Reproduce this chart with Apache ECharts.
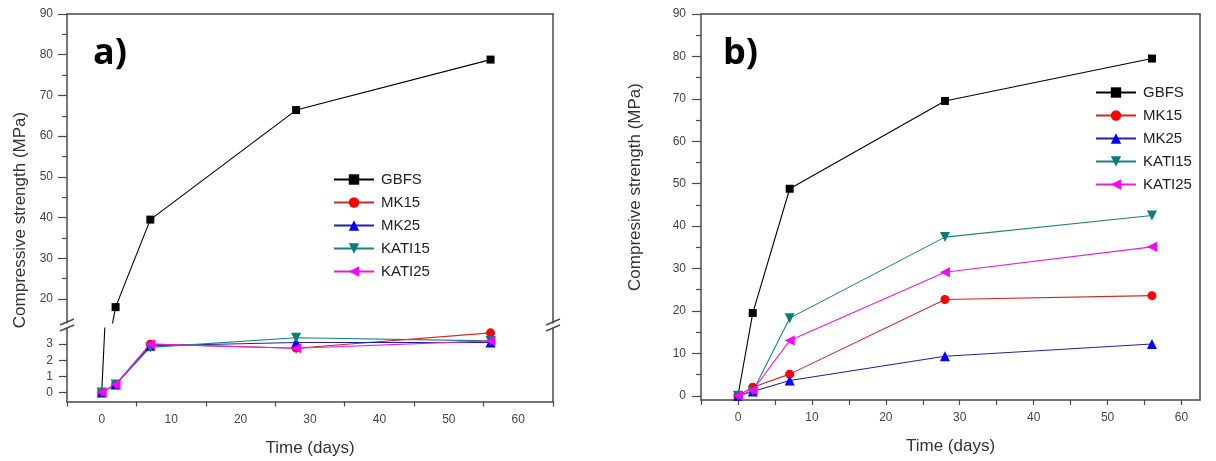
<!DOCTYPE html>
<html>
<head>
<meta charset="utf-8">
<script src="https://cdn.jsdelivr.net/npm/echarts@6/dist/echarts.min.js"></script>
<style>
html,body{margin:0;padding:0;background:#fff;}
#chart{width:1216px;height:461px;}
</style>
</head>
<body>
<div id="chart"></div>
<script>
// ---- data ----
const days = [0, 2, 7, 28, 56];
const seriesNames = ['GBFS', 'MK15', 'MK25', 'KATI15', 'KATI25'];
// panel a)
const aGBFS   = [0, 18.0, 39.5, 66.4, 78.8];
const aMK15   = [0, 0.5, 3.0, 2.75, 3.7];
const aMK25   = [0, 0.5, 2.9, 3.1, 3.1];
const aKATI15 = [0, 0.5, 2.8, 3.4, 3.2];
const aKATI25 = [0, 0.5, 3.0, 2.75, 3.2];
// panel b)
const bGBFS   = [0, 19.5, 48.8, 69.5, 79.5];
const bMK15   = [0, 2.0, 5.1, 22.7, 23.6];
const bMK25   = [0, 1.0, 3.6, 9.3, 12.2];
const bKATI15 = [0, 1.0, 18.3, 37.4, 42.5];
const bKATI25 = [0, 1.3, 13.0, 29.1, 35.1];
// tick labels
const xLabels = [0, 10, 20, 30, 40, 50, 60];
const aXTicks = [-5, 5, 15, 25, 35, 45, 55, 65];
const bXTicks = [-5, 0, 5, 10, 15, 20, 25, 30, 35, 40, 45, 50, 55, 60];
const aUpperLabels = [20, 30, 40, 50, 60, 70, 80, 90];
const aUpperMinor = [25, 35, 45, 55, 65, 75, 85];
const aLowerLabels = [0, 1, 2, 3];
const bYLabels = [0, 10, 20, 30, 40, 50, 60, 70, 80, 90];
const bYMinor = [5, 15, 25, 35, 45, 55, 65, 75, 85];

// ---- styles ----
const FONT = '"Liberation Sans", Arial, sans-serif';
const AX = '#4a4a4a';
const TXT = '#444';
const styles = {
  GBFS:   {marker: '#000000', line: '#000000', symbol: 'rect', size: 8, rot: 0},
  MK15:   {marker: '#ff0000', line: '#cc2a2a', symbol: 'circle', size: 9, rot: 0},
  MK25:   {marker: '#0000ff', line: '#2020a8', symbol: 'triangle', size: 10, rot: 0},
  KATI15: {marker: '#0a7c7c', line: '#1f8080', symbol: 'triangle', size: 10, rot: 180},
  KATI25: {marker: '#ff00ff', line: '#e020e0', symbol: 'triangle', size: 10, rot: 90}
};
const aData = {GBFS: aGBFS, MK15: aMK15, MK25: aMK25, KATI15: aKATI15, KATI25: aKATI25};
const bData = {GBFS: bGBFS, MK15: bMK15, MK25: bMK25, KATI15: bKATI15, KATI25: bKATI25};

function pairs(vals) { return days.map((d, i) => [d, vals[i]]); }

function mkSeries(name, vals, xi, yi) {
  const s = styles[name];
  return {
    type: 'line', name: name, xAxisIndex: xi, yAxisIndex: yi,
    data: pairs(vals), symbol: s.symbol, symbolSize: s.size, symbolRotate: s.rot,
    showAllSymbol: true, clip: true,
    lineStyle: {color: s.line, width: 1.1},
    itemStyle: {color: s.marker},
    emphasis: {disabled: true}, animation: false, z: 3
  };
}

const series = [];
seriesNames.forEach(n => {
  series.push(mkSeries(n, aData[n], 0, 0));   // upper part of a
  series.push(mkSeries(n, aData[n], 2, 3));   // lower part of a
  series.push(mkSeries(n, bData[n], 3, 5));   // b
});

const lineOnly = {show: true, onZero: false, lineStyle: {color: AX, width: 1.5}};
const noLine = {show: false, onZero: false};
const noTick = {show: false};
const noLabel = {show: false};

const grids = [
  {left: 67, width: 486, top: 14, height: 309, outerBoundsMode: 'none'},
  {left: 67, width: 486, top: 328, height: 73.5, outerBoundsMode: 'none'},
  {left: 701, width: 499, top: 14, height: 386, outerBoundsMode: 'none'}
];

const xAxes = [
  {type: 'value', gridIndex: 0, position: 'bottom', min: -5, max: 65,
   axisLine: noLine, axisTick: noTick, axisLabel: noLabel, splitLine: {show: false}},
  {type: 'value', gridIndex: 0, position: 'top', min: -5, max: 65,
   axisLine: lineOnly, axisTick: noTick, axisLabel: noLabel, splitLine: {show: false}},
  {type: 'value', gridIndex: 1, position: 'bottom', min: -5, max: 65,
   axisLine: lineOnly,
   axisTick: {show: true, inside: false, length: 5, customValues: aXTicks, lineStyle: {color: AX, width: 1.2}},
   axisLabel: {show: true, customValues: xLabels, margin: 12, color: TXT, fontSize: 12, fontFamily: FONT},
   splitLine: {show: false},
   name: 'Time (days)', nameLocation: 'middle', nameGap: 38,
   nameTextStyle: {fontSize: 17, color: '#333', fontFamily: FONT}},
  {type: 'value', gridIndex: 2, position: 'bottom', min: -5, max: 62.5,
   axisLine: lineOnly,
   axisTick: {show: true, inside: false, length: 5, customValues: bXTicks, lineStyle: {color: AX, width: 1.2}},
   axisLabel: {show: true, customValues: xLabels, margin: 12, color: TXT, fontSize: 12, fontFamily: FONT},
   splitLine: {show: false},
   name: 'Time (days)', nameLocation: 'middle', nameGap: 38,
   nameTextStyle: {fontSize: 17, color: '#333', fontFamily: FONT}},
  {type: 'value', gridIndex: 2, position: 'top', min: -5, max: 62.5,
   axisLine: lineOnly, axisTick: noTick, axisLabel: noLabel, splitLine: {show: false}}
];

const yAxes = [
  // 0: a upper, main
  {type: 'value', gridIndex: 0, position: 'left', min: 14.1, max: 90,
   axisLine: lineOnly,
   axisTick: {show: true, length: 9, customValues: aUpperLabels, lineStyle: {color: AX, width: 1.2}},
   axisLabel: {show: true, customValues: aUpperLabels, margin: 14, color: TXT, fontSize: 12, fontFamily: FONT},
   splitLine: {show: false}},
  // 1: a upper, minor ticks
  {type: 'value', gridIndex: 0, position: 'left', min: 14.1, max: 90,
   axisLine: noLine,
   axisTick: {show: true, length: 5, customValues: aUpperMinor, lineStyle: {color: AX, width: 1.2}},
   axisLabel: noLabel, splitLine: {show: false}},
  // 2: a upper right frame
  {type: 'value', gridIndex: 0, position: 'right', min: 14.1, max: 90,
   axisLine: lineOnly, axisTick: noTick, axisLabel: noLabel, splitLine: {show: false}},
  // 3: a lower
  {type: 'value', gridIndex: 1, position: 'left', min: -0.55, max: 4,
   axisLine: lineOnly,
   axisTick: {show: true, length: 8, customValues: aLowerLabels, lineStyle: {color: AX, width: 1.2}},
   axisLabel: {show: true, customValues: aLowerLabels, margin: 14, color: TXT, fontSize: 12, fontFamily: FONT},
   splitLine: {show: false}},
  // 4: a lower right frame
  {type: 'value', gridIndex: 1, position: 'right', min: -0.55, max: 4,
   axisLine: lineOnly, axisTick: noTick, axisLabel: noLabel, splitLine: {show: false}},
  // 5: b main
  {type: 'value', gridIndex: 2, position: 'left', min: -1, max: 90,
   axisLine: lineOnly,
   axisTick: {show: true, length: 9, customValues: bYLabels, lineStyle: {color: AX, width: 1.2}},
   axisLabel: {show: true, customValues: bYLabels, margin: 15, color: TXT, fontSize: 12, fontFamily: FONT},
   splitLine: {show: false}},
  // 6: b minor
  {type: 'value', gridIndex: 2, position: 'left', min: -1, max: 90,
   axisLine: noLine,
   axisTick: {show: true, length: 5, customValues: bYMinor, lineStyle: {color: AX, width: 1.2}},
   axisLabel: noLabel, splitLine: {show: false}},
  // 7: b right frame
  {type: 'value', gridIndex: 2, position: 'right', min: -1, max: 90,
   axisLine: lineOnly, axisTick: noTick, axisLabel: noLabel, splitLine: {show: false}}
];

const legendCommon = {
  orient: 'vertical', data: seriesNames, itemWidth: 40, itemHeight: 13, itemGap: 8,
  textStyle: {fontSize: 15, color: '#222', fontFamily: FONT, padding: [0, 0, 0, 2]},
  selectedMode: false, padding: 0
};

function breakMark(x, y) {
  return {type: 'line', silent: true, z: 10,
    shape: {x1: x - 7, y1: y + 3, x2: x + 7, y2: y - 3},
    style: {stroke: AX, lineWidth: 1.4}};
}

const chart = echarts.init(document.getElementById('chart'), null, {renderer: 'canvas'});
chart.setOption({
  backgroundColor: '#fff',
  animation: false,
  grid: grids,
  xAxis: xAxes,
  yAxis: yAxes,
  legend: [
    Object.assign({}, legendCommon, {left: 333, top: 172}),
    Object.assign({}, legendCommon, {left: 1095, top: 85})
  ],
  series: series,
  graphic: [
    {type: 'text', left: 93, top: 36, silent: true,
     style: {text: 'a)', font: 'bold 36px "Open Sans", sans-serif', fill: '#000'}},
    {type: 'text', left: 723, top: 36, silent: true,
     style: {text: 'b)', font: 'bold 36px "Open Sans", sans-serif', fill: '#000'}},
    {type: 'text', x: 20, y: 220, rotation: Math.PI / 2, silent: true,
     style: {text: 'Compressive strength (MPa)', font: '17px "Liberation Sans", Arial, sans-serif',
             fill: '#333', align: 'center', verticalAlign: 'middle'}},
    {type: 'text', x: 635, y: 187, rotation: Math.PI / 2, silent: true,
     style: {text: 'Compresive strength (MPa)', font: '17px "Liberation Sans", Arial, sans-serif',
             fill: '#333', align: 'center', verticalAlign: 'middle'}},
    breakMark(67, 322), breakMark(67, 328),
    breakMark(553, 322), breakMark(553, 328)
  ]
});
</script>
</body>
</html>
